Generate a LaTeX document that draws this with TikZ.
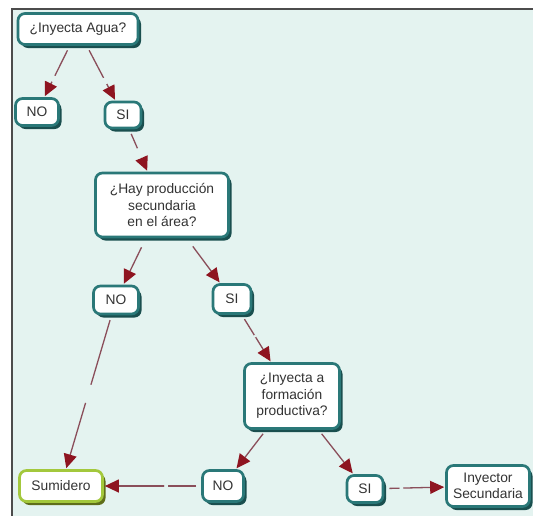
\documentclass[tikz,border=0pt]{standalone}
\usepackage{fontspec}
\setmainfont{Liberation Sans}
\usetikzlibrary{arrows.meta,shadows}

\definecolor{bgmint}{HTML}{E4F3F0}
\definecolor{cmapteal}{HTML}{2A7878}
\definecolor{cmapshade}{HTML}{1A4F4F}
\definecolor{sinkgreen}{HTML}{A3C83C}
\definecolor{sinkshade}{HTML}{5F6E1A}
\definecolor{linkline}{HTML}{8A4E5A}
\definecolor{linktip}{HTML}{8E1420}
\definecolor{txtgray}{HTML}{333333}

\begin{document}
\begin{tikzpicture}[x=1pt,y=-1pt,
  every node/.style={font=\fontsize{13.8}{16.5}\selectfont,text=txtgray},
  box/.style={line width=2.7pt,fill=white,rounded corners=7pt,align=center,inner sep=0pt},
  cn/.style={box,draw=cmapteal,drop shadow={shadow xshift=3pt,shadow yshift=-3.5pt,fill=cmapshade,opacity=1}},
  sink/.style={box,draw=sinkgreen,drop shadow={shadow xshift=3pt,shadow yshift=-3.5pt,fill=sinkshade,opacity=1}},
  ln/.style={draw=linkline,line width=1.3pt,shorten <=5pt,shorten >=1pt,-{Triangle[length=14pt,width=13pt,color=linktip]}},
  lgap/.style={circle,fill=bgmint,inner sep=0pt,minimum size=#1}]
 \useasboundingbox (0,0) rectangle (533,515);
 % panel
 \fill[bgmint] (12,9) rectangle (535,517);
 \draw[black!70,line width=1.5pt] (12,517) -- (12,9) -- (535,9);
 % concepts
 \node[cn,minimum width=120pt,minimum height=31pt] (agua) at (78,29) {¿Inyecta Agua?};
 \node[cn,minimum width=43pt,minimum height=27pt] (no1) at (37,112) {NO};
 \node[cn,minimum width=36pt,minimum height=26pt] (si1) at (123,115) {SI};
 \node[cn,minimum width=133pt,minimum height=64pt] (hay) at (162,205) {¿Hay producción\\secundaria\\en el área?};
 \node[cn,minimum width=45pt,minimum height=28pt] (no2) at (116,300) {NO};
 \node[cn,minimum width=38pt,minimum height=29pt] (si2) at (232,299) {SI};
 \node[cn,minimum width=95pt,minimum height=65pt] (iny) at (292,396) {¿Inyecta a\\formación\\productiva?};
 \node[cn,minimum width=41pt,minimum height=31pt] (no3) at (223,486) {NO};
 \node[cn,minimum width=36pt,minimum height=27pt] (si3) at (365,489) {SI};
 \node[cn,minimum width=83pt,minimum height=41pt] (sec) at (488,486) {Inyector\\Secundaria};
 \node[sink,minimum width=83pt,minimum height=31pt] (sum) at (61,486) {Sumidero};
 % links (empty phrases leave a gap)
 \draw[ln] (agua) -- node[lgap=7pt,pos=.64]{} (no1);
 \draw[ln] (agua) -- node[lgap=7pt,pos=.64]{} (si1);
 \draw[ln] (si1) -- node[lgap=11pt,pos=.56]{} (hay);
 \draw[ln,shorten <=10pt] (hay) -- (no2);
 \draw[ln,shorten <=10pt] (hay) -- (si2);
 \draw[ln] (si2) -- node[lgap=3pt,pos=.45]{} (iny);
 \draw[ln] (no2) -- node[lgap=19pt,pos=.51]{} (sum);
 \draw[ln] (iny) -- (no3);
 \draw[ln] (iny) -- (si3);
 \draw[ln] (no3) -- node[lgap=4pt,pos=.36]{} (sum);
 \draw[ln] (si3) -- node[lgap=4pt,pos=.28]{} (sec);
\end{tikzpicture}
\end{document}
